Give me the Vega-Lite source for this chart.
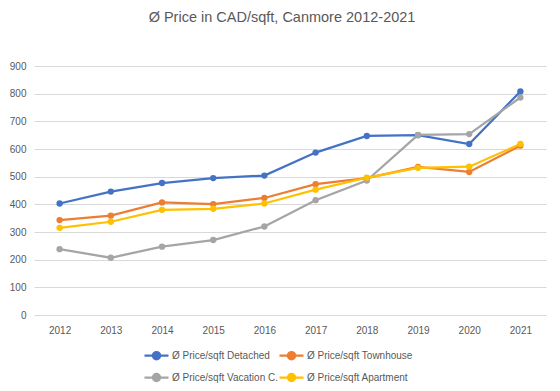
{
  "$schema": "https://vega.github.io/schema/vega-lite/v6.json",
  "width": 512,
  "height": 249,
  "autosize": {"type": "none"},
  "padding": {"left": 34, "top": 66, "right": 14, "bottom": 76},
  "background": "white",
  "title": {
    "text": "Ø Price in CAD/sqft, Canmore 2012-2021",
    "fontSize": 14.5,
    "font": "Liberation Sans",
    "fontWeight": "normal",
    "color": "#595959",
    "anchor": "middle",
    "offset": 36,
    "dx": -8
  },
  "config": {
    "view": {"stroke": null},
    "font": "Liberation Sans"
  },
  "data": {
    "values": [
      {"year": "2012", "series": "Ø Price/sqft Detached", "price": 403},
      {"year": "2013", "series": "Ø Price/sqft Detached", "price": 446},
      {"year": "2014", "series": "Ø Price/sqft Detached", "price": 477},
      {"year": "2015", "series": "Ø Price/sqft Detached", "price": 495},
      {"year": "2016", "series": "Ø Price/sqft Detached", "price": 504},
      {"year": "2017", "series": "Ø Price/sqft Detached", "price": 587},
      {"year": "2018", "series": "Ø Price/sqft Detached", "price": 647},
      {"year": "2019", "series": "Ø Price/sqft Detached", "price": 650},
      {"year": "2020", "series": "Ø Price/sqft Detached", "price": 618},
      {"year": "2021", "series": "Ø Price/sqft Detached", "price": 808},
      {"year": "2012", "series": "Ø Price/sqft Townhouse", "price": 343},
      {"year": "2013", "series": "Ø Price/sqft Townhouse", "price": 359},
      {"year": "2014", "series": "Ø Price/sqft Townhouse", "price": 407},
      {"year": "2015", "series": "Ø Price/sqft Townhouse", "price": 401},
      {"year": "2016", "series": "Ø Price/sqft Townhouse", "price": 423},
      {"year": "2017", "series": "Ø Price/sqft Townhouse", "price": 473},
      {"year": "2018", "series": "Ø Price/sqft Townhouse", "price": 495},
      {"year": "2019", "series": "Ø Price/sqft Townhouse", "price": 535},
      {"year": "2020", "series": "Ø Price/sqft Townhouse", "price": 517},
      {"year": "2021", "series": "Ø Price/sqft Townhouse", "price": 612},
      {"year": "2012", "series": "Ø Price/sqft Vacation C.", "price": 238},
      {"year": "2013", "series": "Ø Price/sqft Vacation C.", "price": 207},
      {"year": "2014", "series": "Ø Price/sqft Vacation C.", "price": 247},
      {"year": "2015", "series": "Ø Price/sqft Vacation C.", "price": 271},
      {"year": "2016", "series": "Ø Price/sqft Vacation C.", "price": 320},
      {"year": "2017", "series": "Ø Price/sqft Vacation C.", "price": 415},
      {"year": "2018", "series": "Ø Price/sqft Vacation C.", "price": 486},
      {"year": "2019", "series": "Ø Price/sqft Vacation C.", "price": 651},
      {"year": "2020", "series": "Ø Price/sqft Vacation C.", "price": 654},
      {"year": "2021", "series": "Ø Price/sqft Vacation C.", "price": 786},
      {"year": "2012", "series": "Ø Price/sqft Apartment", "price": 315},
      {"year": "2013", "series": "Ø Price/sqft Apartment", "price": 337},
      {"year": "2014", "series": "Ø Price/sqft Apartment", "price": 380},
      {"year": "2015", "series": "Ø Price/sqft Apartment", "price": 384},
      {"year": "2016", "series": "Ø Price/sqft Apartment", "price": 403},
      {"year": "2017", "series": "Ø Price/sqft Apartment", "price": 453},
      {"year": "2018", "series": "Ø Price/sqft Apartment", "price": 496},
      {"year": "2019", "series": "Ø Price/sqft Apartment", "price": 532},
      {"year": "2020", "series": "Ø Price/sqft Apartment", "price": 536},
      {"year": "2021", "series": "Ø Price/sqft Apartment", "price": 618}
    ]
  },
  "mark": {
    "type": "line",
    "strokeWidth": 2.25,
    "point": {"filled": true, "size": 40, "opacity": 1}
  },
  "encoding": {
    "x": {
      "field": "year",
      "type": "ordinal",
      "scale": {"type": "point", "padding": 0.5},
      "axis": {
        "title": null,
        "labelAngle": 0,
        "domain": false,
        "ticks": false,
        "grid": false,
        "labelFontSize": 10,
        "labelColor": "#595959",
        "labelPadding": 10
      }
    },
    "y": {
      "field": "price",
      "type": "quantitative",
      "scale": {"domain": [0, 900]},
      "axis": {
        "title": null,
        "values": [0, 100, 200, 300, 400, 500, 600, 700, 800, 900],
        "domain": false,
        "ticks": false,
        "gridColor": "#d9d9d9",
        "gridWidth": 1,
        "labelFontSize": 10,
        "labelColor": "#595959",
        "labelPadding": 8
      }
    },
    "color": {
      "field": "series",
      "type": "nominal",
      "sort": ["Ø Price/sqft Detached", "Ø Price/sqft Townhouse", "Ø Price/sqft Vacation C.", "Ø Price/sqft Apartment"],
      "scale": {
        "domain": ["Ø Price/sqft Detached", "Ø Price/sqft Townhouse", "Ø Price/sqft Vacation C.", "Ø Price/sqft Apartment"],
        "range": ["#4472C4", "#ED7D31", "#A5A5A5", "#FFC000"]
      },
      "legend": {
        "title": null,
        "orient": "none",
        "legendX": 109,
        "legendY": 276,
        "columns": 2,
        "direction": "horizontal",
        "columnPadding": -7,
        "rowPadding": -7,
        "labelFontSize": 10,
        "labelColor": "#595959",
        "labelOffset": 2,
        "symbolType": "M-1,0H1M-0.3,0A0.3,0.3,0,1,0,0.3,0A0.3,0.3,0,1,0,-0.3,0Z",
        "symbolSize": 576,
        "symbolStrokeWidth": 2.25,
        "encode": {
          "symbols": {
            "update": {
              "fill": {"scale": "color", "field": "value"},
              "stroke": {"scale": "color", "field": "value"},
              "fillOpacity": {"value": 1},
              "strokeOpacity": {"value": 1},
              "opacity": {"value": 1}
            }
          }
        }
      }
    }
  }
}
